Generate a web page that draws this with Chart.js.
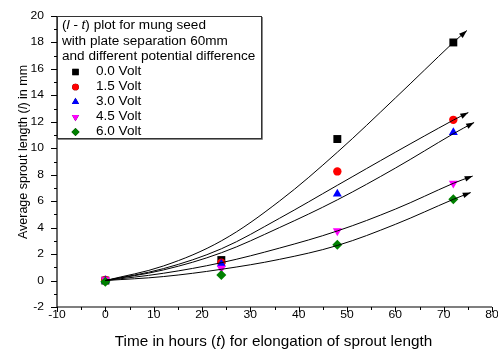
<!DOCTYPE html>
<html>
<head>
<meta charset="utf-8">
<script src="https://cdn.jsdelivr.net/npm/chart.js@4/dist/chart.umd.min.js"></script>
<style>
  html, body { margin: 0; padding: 0; background: #fff; }
  #wrap { width: 498px; height: 351px; }
</style>
</head>
<body>
<div id="wrap"><canvas id="chartSprout" width="498" height="351"></canvas></div>
<script>
// measured points: sprout length (mm) after t hours
const hours = [0, 24, 48, 72];
const volt00 = [0.0, 1.55, 10.7, 18.0];
const volt15 = [0.05, 1.35, 8.25, 12.15];
const volt30 = [0.0, 1.25, 6.55, 11.2];
const volt45 = [0.05, 0.92, 3.75, 7.35];
const volt60 = [-0.1, 0.42, 2.7, 6.15];

// fitted curves, last point is the arrow tip
const fitHours = [0, 12, 24, 36, 48, 60, 72];
const fit00 = [0, 1.1, 3.0, 6.0, 9.7, 13.8, 18.0];
const fit15 = [0, 0.9, 2.4, 4.7, 7.2, 9.7, 12.13];
const fit30 = [0, 0.8, 2.1, 4.0, 6.1, 8.5, 11.1];
const fit45 = [0, 0.55, 1.35, 2.45, 3.75, 5.4, 7.35];
const fit60 = [0, 0.3, 0.85, 1.6, 2.65, 4.25, 6.14];
const arrowEndX = [74.8, 75.1, 76.3, 76.0, 75.6];
const arrowEndY = [18.9, 12.7, 11.95, 7.9, 6.65];

const seriesNames = ['0.0 Volt', '1.5 Volt', '3.0 Volt', '4.5 Volt', '6.0 Volt'];
const xTicks = [-10, 0, 10, 20, 30, 40, 50, 60, 70, 80];
const yTicks = [-2, 0, 2, 4, 6, 8, 10, 12, 14, 16, 18, 20];
const legendTitle = ['plot for mung seed', 'with plate separation 60mm', 'and different potential difference'];

const FONT = '"Liberation Sans", Arial, sans-serif';
const colors = ['#000000', '#ff0000', '#0000ff', '#ff00ff', '#008000'];
const styles = ['rect', 'circle', 'triangle', 'triangle', 'rectRot'];
const rotations = [0, 0, 0, 180, 0];
const radii = [5.6, 4.2, 5.2, 5.2, 5];

const measured = [volt00, volt15, volt30, volt45, volt60];
const fits = [fit00, fit15, fit30, fit45, fit60];

const datasets = [];
fits.forEach((f, i) => {
    const pts = fitHours.map((h, k) => ({ x: h, y: f[k] }));
    pts.push({ x: arrowEndX[i], y: arrowEndY[i] });
    datasets.push({
        type: 'line',
        label: 'fit ' + seriesNames[i],
        data: pts,
        borderColor: '#000',
        borderWidth: 1,
        pointRadius: 0,
        tension: 0.35,
        fill: false,
        clip: false,
        order: 1,
        isFit: true
    });
});
measured.forEach((vals, i) => {
    datasets.push({
        type: 'scatter',
        label: seriesNames[i],
        data: hours.map((h, k) => ({ x: h, y: vals[k] })),
        backgroundColor: colors[i],
        borderColor: colors[i],
        borderWidth: 0,
        pointStyle: styles[i],
        rotation: rotations[i],
        pointRadius: radii[i],
        pointHoverRadius: radii[i],
        showLine: false,
        clip: false,
        order: 10 - i
    });
});

// draws text made of plain / italic pieces, sx stretches it sideways
function drawMixed(ctx, parts, x, y, size, align, sx) {
    sx = sx || 1;
    let total = 0;
    parts.forEach(p => {
        ctx.font = (p[1] ? 'italic ' : '') + size + 'px ' + FONT;
        total += ctx.measureText(p[0]).width * sx;
    });
    let cx = align === 'center' ? x - total / 2 : (align === 'right' ? x - total : x);
    ctx.save();
    ctx.textAlign = 'left';
    parts.forEach(p => {
        ctx.font = (p[1] ? 'italic ' : '') + size + 'px ' + FONT;
        ctx.save();
        ctx.translate(cx, y);
        ctx.scale(sx, 1);
        ctx.fillText(p[0], 0, 0);
        ctx.restore();
        cx += ctx.measureText(p[0]).width * sx;
    });
    ctx.restore();
}

const axesPlugin = {
    id: 'axesPlugin',
    beforeDatasetsDraw(chart) {
        const ctx = chart.ctx;
        const xs = chart.scales.x, ys = chart.scales.y;
        const a = chart.chartArea;
        ctx.save();
        ctx.strokeStyle = '#000';
        ctx.fillStyle = '#000';
        ctx.lineWidth = 1.2;
        ctx.beginPath();
        ctx.moveTo(a.left, a.top);
        ctx.lineTo(a.left, a.bottom);
        ctx.lineTo(a.right, a.bottom);
        ctx.stroke();

        ctx.lineWidth = 1;
        ctx.beginPath();
        for (let v = -10; v <= 80; v += 5) {
            const px = Math.round(xs.getPixelForValue(v)) + 0.5;
            const len = v % 10 === 0 ? 5 : 3;
            ctx.moveTo(px, a.bottom);
            ctx.lineTo(px, a.bottom + len);
        }
        for (let v = -2; v <= 20; v += 1) {
            const py = Math.round(ys.getPixelForValue(v)) + 0.5;
            const len = v % 2 === 0 ? 6 : 3;
            ctx.moveTo(a.left, py);
            ctx.lineTo(a.left - len, py);
        }
        ctx.stroke();

        ctx.textBaseline = 'middle';
        xTicks.forEach(v => drawMixed(ctx, [[String(v), false]], xs.getPixelForValue(v), a.bottom + 7.5, 11, 'center', 1.1));
        yTicks.forEach(v => drawMixed(ctx, [[String(v), false]], a.left - 13, ys.getPixelForValue(v), 11, 'right', 1.1));

        // axis titles
        drawMixed(ctx, [['Time in hours (', false], ['t', true], [') for elongation of sprout length', false]],
            (a.left + a.right) / 2 - 1, 342, 15, 'center', 1.02);
        ctx.save();
        ctx.translate(24, 152);
        ctx.rotate(-Math.PI / 2);
        drawMixed(ctx, [['Average sprout length (', false], ['l', true], [') in mm', false]], 0, 0, 12.5, 'center');
        ctx.restore();
        ctx.restore();
    },
    afterDatasetsDraw(chart) {
        const ctx = chart.ctx;
        ctx.save();
        ctx.fillStyle = '#000';
        chart.data.datasets.forEach((ds, i) => {
            if (!ds.isFit) return;
            const pts = chart.getDatasetMeta(i).data;
            const tip = pts[pts.length - 1], prev = pts[pts.length - 2];
            const ang = Math.atan2(tip.y - prev.y, tip.x - prev.x);
            ctx.save();
            ctx.translate(tip.x, tip.y);
            ctx.rotate(ang);
            ctx.beginPath();
            ctx.moveTo(0, 0);
            ctx.lineTo(-8, -2.8);
            ctx.lineTo(-8, 2.8);
            ctx.closePath();
            ctx.fill();
            ctx.restore();
        });

        // legend box
        const a = chart.chartArea;
        const bx = a.left, by = a.top, bw = 204, bh = 122;
        ctx.fillStyle = '#fff';
        ctx.fillRect(bx, by, bw, bh);
        ctx.strokeStyle = '#333';
        ctx.lineWidth = 1;
        ctx.strokeRect(bx + 0.5, by + 0.5, bw, bh);
        ctx.beginPath();
        ctx.moveTo(bx + bw + 1.5, by + 1);
        ctx.lineTo(bx + bw + 1.5, by + bh + 1.5);
        ctx.lineTo(bx + 1, by + bh + 1.5);
        ctx.strokeStyle = '#888';
        ctx.stroke();

        ctx.fillStyle = '#000';
        ctx.textBaseline = 'middle';
        const sx = 1.13;
        drawMixed(ctx, [['(', false], ['l - t', true], [') ' + legendTitle[0], false]], bx + 5, by + 9.5, 12, 'left', sx);
        drawMixed(ctx, [[legendTitle[1], false]], bx + 5, by + 25.5, 12, 'left', sx);
        drawMixed(ctx, [[legendTitle[2], false]], bx + 5, by + 41, 12, 'left', sx);
        seriesNames.forEach((name, i) => {
            const ly = by + 56 + i * 15;
            Chart.helpers.drawPoint(ctx, {
                pointStyle: styles[i],
                rotation: rotations[i],
                radius: radii[i] * 0.8,
                borderWidth: 0
            }, bx + 18.5, ly);
            ctx.fillStyle = colors[i];
            ctx.fill();
            ctx.fillStyle = '#000';
            drawMixed(ctx, [[name, false]], bx + 39, ly, 12, 'left', sx);
        });
        ctx.restore();
    }
};

new Chart(document.getElementById('chartSprout').getContext('2d'), {
    data: { datasets: datasets },
    options: {
        responsive: false,
        animation: false,
        layout: { padding: { left: 57, top: 16, right: 6, bottom: 44 } },
        scales: {
            x: { type: 'linear', min: -10, max: 80, display: false },
            y: { type: 'linear', min: -2, max: 20, display: false }
        },
        plugins: {
            legend: { display: false },
            tooltip: { enabled: false }
        }
    },
    plugins: [axesPlugin]
});
</script>
</body>
</html>
